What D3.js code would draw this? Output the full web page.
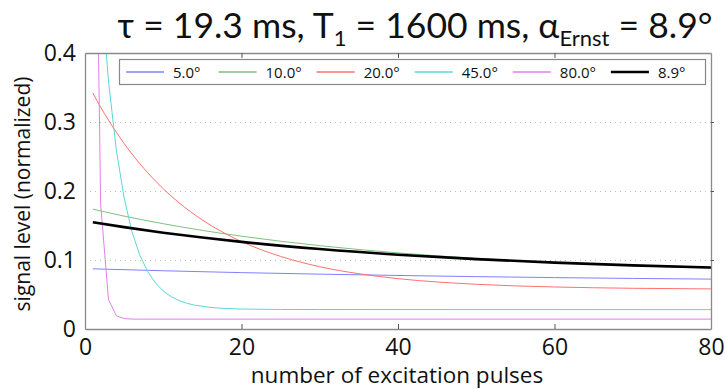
<!DOCTYPE html>
<html><head><meta charset="utf-8">
<script src="https://cdn.jsdelivr.net/npm/d3@7"></script>
<style>
body{margin:0;background:#fff;}
text{font-family:"Open Sans","Noto Sans",sans-serif;fill:#111;}
</style></head>
<body><svg id="c" width="725" height="389"></svg>
<script>
// ---- data ----
const seriesLabels = ["5.0°","10.0°","20.0°","45.0°","80.0°","8.9°"];
const seriesColors = ["#8080ff","#80c080","#ff7070","#5ad8d8","#e27fe8","#000000"];
const seriesWidths = [1,1,1,1,1,2.6];

const pulses5 = [1,10,20,30,40,50,60,70,80];
const signal5 = [0.0872,0.0844,0.0817,0.0795,0.0776,0.0759,0.0745,0.0733,0.0723];

const pulses10 = [1,5,10,15,20,30,40,50,60,70,80];
const signal10 = [0.1736,0.1636,0.1526,0.1429,0.1345,0.1208,0.1103,0.1024,0.0963,0.0917,0.0882];

const pulses20 = [1,2,3,4,6,8,10,12,15,20,25,30,35,40,50,60,70,80];
const signal20 = [0.3420,0.3216,0.3027,0.2852,0.2537,0.2266,0.2032,0.1831,0.1580,0.1267,0.1052,0.0903,0.0801,0.0730,0.0648,0.0609,0.0590,0.0581];

const pulses45 = [1,2,3,4,5,6,7,8,9,10,11,12,13,14,16,18,20,25,30,80];
const signal45 = [0.7071,0.5025,0.3595,0.2597,0.1899,0.1411,0.1071,0.0833,0.0667,0.0551,0.0469,0.0413,0.0373,0.0346,0.0313,0.0297,0.0289,0.0283,0.0282,0.0281];

const pulses80 = [1,2,3,4,5,6,7,80];
const signal80 = [0.9848,0.1808,0.0428,0.0192,0.0151,0.0144,0.0143,0.0143];

const pulsesErnst = [1,5,10,15,20,30,40,50,60,70,80];
const signalErnst = [0.1547,0.1476,0.1396,0.1326,0.1263,0.1159,0.1077,0.1012,0.0962,0.0922,0.0891];

const xTicks = [0,20,40,60,80];
const yTicks = [0,0.1,0.2,0.3,0.4];
const yGrid = [0.1,0.2,0.3];

const seriesX = [pulses5,pulses10,pulses20,pulses45,pulses80,pulsesErnst];
const seriesY = [signal5,signal10,signal20,signal45,signal80,signalErnst];
const curves = [d3.curveMonotoneX,d3.curveMonotoneX,d3.curveMonotoneX,d3.curveLinear,d3.curveLinear,d3.curveMonotoneX];

// ---- layout ----
const L=85,R=711,T=53,B=329;
const svg=d3.select("#c");
const x=d3.scaleLinear().domain([0,80]).range([L,R]);
const y=d3.scaleLinear().domain([0,0.4]).range([B,T]);

svg.append("defs").append("clipPath").attr("id","clip")
  .append("rect").attr("x",L).attr("y",T).attr("width",R-L).attr("height",B-T);

// grid
svg.append("g").selectAll("line").data(yGrid).join("line")
  .attr("x1",L).attr("x2",R).attr("y1",d=>Math.round(y(d))+0.5).attr("y2",d=>Math.round(y(d))+0.5)
  .attr("stroke","#bbb").attr("stroke-width",1).attr("stroke-dasharray","1,4");

// lines
const plot=svg.append("g").attr("clip-path","url(#clip)");
seriesY.forEach((vals,i)=>{
  const pts=vals.map((v,j)=>[seriesX[i][j],v]);
  plot.append("path").datum(pts)
    .attr("fill","none").attr("stroke",seriesColors[i]).attr("stroke-width",seriesWidths[i])
    .attr("stroke-linejoin","round")
    .attr("d",d3.line().x(d=>x(d[0])).y(d=>y(d[1])).curve(curves[i]));
});

// axes (box + inward ticks)
const axColor="#8a8a8a";
const xb=svg.append("g").attr("transform",`translate(0,${B})`)
  .call(d3.axisBottom(x).tickValues(xTicks).tickSizeInner(-5).tickSizeOuter(0).tickPadding(10));
const xt=svg.append("g").attr("transform",`translate(0,${T})`)
  .call(d3.axisTop(x).tickValues(xTicks).tickSizeInner(-5).tickSizeOuter(0).tickFormat(""));
const yl=svg.append("g").attr("transform",`translate(${L},0)`)
  .call(d3.axisLeft(y).tickValues(yTicks).tickSizeInner(0).tickSizeOuter(0).tickPadding(9).tickFormat(d=>d===0?"0":d3.format(".1f")(d)));
const yr=svg.append("g").attr("transform",`translate(${R},0)`)
  .call(d3.axisRight(y).tickValues(yTicks).tickSizeInner(3).tickSizeOuter(0).tickFormat(""));
[xb,xt,yl,yr].forEach(g=>{
  g.selectAll(".domain").attr("stroke",axColor).attr("stroke-width",1.3);
  g.selectAll(".tick line").attr("stroke","#555");
  g.selectAll("text").attr("font-size",23).attr("fill","#111").attr("font-family","'Open Sans',sans-serif");
});
xb.selectAll(".tick").filter(d=>d===0||d===80).select("line").remove();
xt.selectAll(".tick").filter(d=>d===0||d===80).select("line").remove();
yr.selectAll(".tick").filter(d=>d===0||d===0.4).select("line").remove();

// axis titles
svg.append("text").attr("x",397).attr("y",383).attr("text-anchor","middle")
  .attr("font-size",22.5).text("number of excitation pulses");
svg.append("text").attr("transform",`translate(30,194) rotate(-90)`).attr("text-anchor","middle")
  .attr("font-size",21).text("signal level (normalized)");

// title
const title=svg.append("text").attr("x",415).attr("y",38).attr("text-anchor","middle").attr("font-size",35.5)
  .style("font-family","Lato,'Open Sans',sans-serif");
title.append("tspan").text("τ = 19.3 ms, T");
title.append("tspan").attr("font-size",22).attr("dy",8).text("1");
title.append("tspan").attr("dy",-8).text(" = 1600 ms, α");
title.append("tspan").attr("font-size",22).attr("dy",8).text("Ernst");
title.append("tspan").attr("dy",-8).text(" = 8.9°");

// legend
const lg=svg.append("g");
lg.append("rect").attr("x",119.5).attr("y",59.5).attr("width",586).attr("height",25)
  .attr("fill","#fff").attr("stroke","#888").attr("stroke-width",1.2);
let cx=126;
seriesLabels.forEach((lab,i)=>{
  lg.append("line").attr("x1",cx).attr("x2",cx+38).attr("y1",72).attr("y2",72)
    .attr("stroke",seriesColors[i]).attr("stroke-width",i===5?2.6:1.3);
  const t=lg.append("text").attr("x",cx+47).attr("y",78).attr("font-size",15).text(lab);
  const w=t.node().getComputedTextLength();
  cx=cx+47+w+ (i===0?18:15);
});
</script></body></html>
